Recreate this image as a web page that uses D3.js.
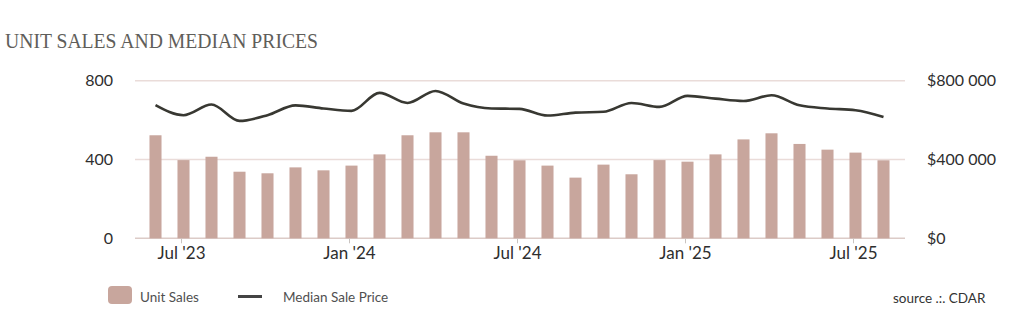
<!DOCTYPE html>
<html>
<head>
<meta charset="utf-8">
<script src="https://cdn.jsdelivr.net/npm/d3@7"></script>
<style>
  body { margin: 0; background: #fff; }
  svg { display: block; }
</style>
</head>
<body>
<div id="chart"></div>
<script>
const WIDTH = 1024, HEIGHT = 329;

// data, Jun '23 .. Aug '25
const months = ["2023-06","2023-07","2023-08","2023-09","2023-10","2023-11","2023-12",
  "2024-01","2024-02","2024-03","2024-04","2024-05","2024-06","2024-07","2024-08","2024-09",
  "2024-10","2024-11","2024-12","2025-01","2025-02","2025-03","2025-04","2025-05","2025-06",
  "2025-07","2025-08"];
const unitSales = [523, 397, 414, 338, 330, 360, 345, 369, 426, 523, 538, 538, 419, 396,
  369, 308, 374, 325, 397, 389, 426, 502, 533, 479, 450, 435, 396];
const medianPrice = [676000, 625000, 679000, 596000, 625000, 675000, 659000, 647000, 738000,
  687000, 748000, 684000, 659000, 657000, 623000, 638000, 642000, 687000, 667000, 723000,
  709000, 697000, 726000, 675000, 659000, 650000, 616000];
const tickMonths = ["2023-07","2024-01","2024-07","2025-01","2025-07"];
const tickLabels = ["Jul '23","Jan '24","Jul '24","Jan '25","Jul '25"];
const salesTicks = [0, 400, 800];
const priceTicks = [0, 400000, 800000];

const svg = d3.select("#chart").append("svg")
  .attr("width", WIDTH)
  .attr("height", HEIGHT);

const x = d3.scaleBand()
  .domain(months)
  .range([141.5, 897.5])
  .paddingInner(0.57)
  .paddingOuter(0.285);

const ySales = d3.scaleLinear().domain([0, 800]).range([238.3, 80.7]);
const yPrice = d3.scaleLinear().domain([0, 800000]).range([238.3, 80.7]);

// title
svg.append("text")
  .attr("x", 5)
  .attr("y", 48)
  .attr("font-family", "Liberation Serif")
  .attr("font-size", 21)
  .attr("fill", "#5f5e5a")
  .attr("textLength", 313)
  .attr("lengthAdjust", "spacingAndGlyphs")
  .text("UNIT SALES AND MEDIAN PRICES");

// grid lines
svg.append("g")
  .selectAll("line")
  .data(salesTicks)
  .join("line")
  .attr("x1", 135)
  .attr("x2", 905)
  .attr("y1", d => ySales(d))
  .attr("y2", d => ySales(d))
  .attr("stroke", d => d === 0 ? "#dccbc7" : "#eadcd9")
  .attr("stroke-width", 1.5);

// left axis
const leftAxis = svg.append("g")
  .attr("transform", "translate(113,0)")
  .call(d3.axisLeft(ySales).tickValues(salesTicks).tickSize(0).tickPadding(0));
leftAxis.select(".domain").remove();
leftAxis.selectAll("text")
  .attr("font-family", "Lato")
  .attr("font-size", 16)
  .attr("fill", "#2e2e2e");

// right axis
const rightAxis = svg.append("g")
  .attr("transform", "translate(927,0)")
  .call(d3.axisRight(yPrice).tickValues(priceTicks).tickSize(0).tickPadding(0)
    .tickFormat(d => "$" + d3.format(",")(d).replace(/,/g, " ")));
rightAxis.select(".domain").remove();
rightAxis.selectAll("text")
  .attr("font-family", "Lato")
  .attr("font-size", 16)
  .attr("fill", "#2e2e2e");

// bars
svg.append("g")
  .selectAll("rect")
  .data(months)
  .join("rect")
  .attr("x", (d) => x(d))
  .attr("width", x.bandwidth())
  .attr("y", (d, i) => ySales(unitSales[i]))
  .attr("height", (d, i) => ySales(0) - ySales(unitSales[i]))
  .attr("fill", "#c8a69d");

// bottom axis
const bottomAxis = svg.append("g")
  .attr("transform", "translate(-2,238.3)")
  .call(d3.axisBottom(x).tickValues(tickMonths).tickSize(5).tickPadding(4)
    .tickFormat((d, i) => tickLabels[i]));
bottomAxis.select(".domain").remove();
bottomAxis.selectAll("line").attr("stroke", "#c9c3c0");
bottomAxis.selectAll("text")
  .attr("font-family", "Lato")
  .attr("font-size", 17)
  .attr("fill", "#2e2e2e");

// median price line
const line = d3.line()
  .x((d, i) => x(months[i]) + x.bandwidth() / 2)
  .y(d => yPrice(d))
  .curve(d3.curveMonotoneX);

svg.append("path")
  .datum(medianPrice)
  .attr("d", line)
  .attr("fill", "none")
  .attr("stroke", "#383832")
  .attr("stroke-width", 2.6);

// legend
const legend = svg.append("g");
legend.append("rect")
  .attr("x", 108).attr("y", 286)
  .attr("width", 24).attr("height", 18)
  .attr("rx", 4)
  .attr("fill", "#c8a69d");
legend.append("text")
  .attr("x", 140).attr("y", 302)
  .attr("font-family", "Lato").attr("font-size", 13.5)
  .attr("fill", "#505050")
  .text("Unit Sales");
legend.append("line")
  .attr("x1", 238).attr("x2", 262)
  .attr("y1", 296.5).attr("y2", 296.5)
  .attr("stroke", "#444").attr("stroke-width", 3);
legend.append("text")
  .attr("x", 283).attr("y", 302)
  .attr("font-family", "Lato").attr("font-size", 13.5)
  .attr("fill", "#505050")
  .text("Median Sale Price");

svg.append("text")
  .attr("x", 893).attr("y", 303)
  .attr("font-family", "Lato").attr("font-size", 13.5)
  .attr("fill", "#333")
  .text("source .:. CDAR");
</script>
</body>
</html>
